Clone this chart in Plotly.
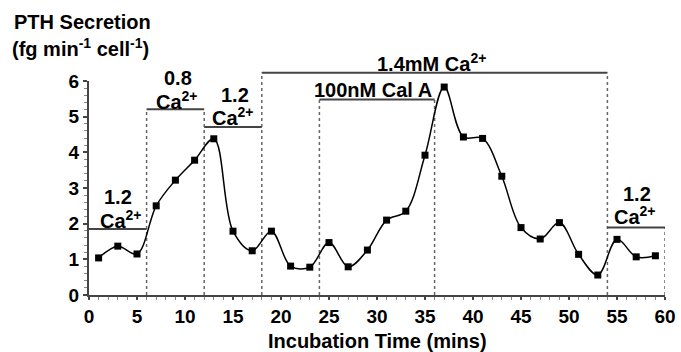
import plotly.graph_objects as go

time_min = [1, 3, 5, 7, 9, 11, 13, 15, 17, 19, 21, 23, 25, 27, 29, 31, 33, 35,
            37, 39, 41, 43, 45, 47, 49, 51, 53, 55, 57, 59]
pth = [1.04, 1.37, 1.15, 2.5, 3.22, 3.78, 4.38, 1.79, 1.24, 1.79, 0.81, 0.78,
       1.47, 0.79, 1.26, 2.1, 2.35, 3.92, 5.83, 4.43, 4.39, 3.33, 1.89, 1.57,
       2.03, 1.14, 0.56, 1.56, 1.07, 1.10]

# condition periods: (start, end, bar level)
periods = [(0, 6, 1.85), (6, 12, 5.21), (12, 18, 4.71), (18, 54, 6.23),
           (24, 36, 5.48), (54, 60, 1.89)]
# dotted boundaries: (x, top)
boundaries = [(6, 5.21), (12, 5.21), (18, 6.23), (24, 5.48), (36, 5.48),
              (54, 6.23), (60, 1.89)]
# labels: (text, x, y)
labels = [("1.2", 3.0, 2.76), ("Ca<sup>2+</sup>", 3.3, 2.12),
          ("0.8", 9.3, 6.08), ("Ca<sup>2+</sup>", 9.2, 5.45),
          ("1.2", 15.2, 5.6), ("Ca<sup>2+</sup>", 15.0, 5.01),
          ("1.4mM Ca<sup>2+</sup>", 35.7, 6.53),
          ("100nM Cal A", 29.6, 5.74),
          ("1.2", 57.1, 2.84), ("Ca<sup>2+</sup>", 56.9, 2.24)]

FONT = "Liberation Sans"
YMAX = 6.0

W, H = 681, 352
L, R, T, B = 89, 16, 81, 57
pw, ph = W - L - R, H - T - B


def px(xp):
    return (xp - L) / pw


def py(yp):
    return (H - B - yp) / ph


fig = go.Figure()
fig.add_trace(go.Scatter(
    x=time_min, y=pth, mode="lines+markers",
    line=dict(color="black", width=1.5, shape="spline", smoothing=1.0),
    marker=dict(symbol="square", size=7, color="black"),
    cliponaxis=False, showlegend=False, hoverinfo="skip"))

shapes = []
for (x0, x1, yv) in periods:
    shapes.append(dict(type="line", xref="x", yref="paper", x0=x0, x1=x1,
                       y0=yv / YMAX, y1=yv / YMAX,
                       line=dict(color="#444444", width=2), layer="above"))
for (xv, top) in boundaries:
    shapes.append(dict(type="line", xref="x", yref="paper", x0=xv, x1=xv,
                       y0=0, y1=top / YMAX,
                       line=dict(color="#666666", width=1.5, dash="dot"), layer="below"))

bold = dict(family=FONT, size=20, color="black", weight="bold")
tickbold = dict(family=FONT, size=19, color="black", weight="bold")
annotations = []
for (t, xv, yv) in labels:
    annotations.append(dict(text=t, x=xv, y=yv / YMAX, xref="x", yref="paper",
                            showarrow=False, xanchor="center", yanchor="middle",
                            font=bold))
annotations.append(dict(text="PTH Secretion", x=px(12), y=py(22), xref="paper",
                        yref="paper", showarrow=False, xanchor="left", yanchor="middle",
                        font=bold))
annotations.append(dict(text="(fg min<sup>-1</sup> cell<sup>-1</sup>)", x=px(10), y=py(47),
                        xref="paper", yref="paper", showarrow=False, xanchor="left",
                        yanchor="middle", font=bold))
annotations.append(dict(text="Incubation Time (mins)", x=px(377), y=py(341),
                        xref="paper", yref="paper", showarrow=False, xanchor="center",
                        yanchor="middle", font=bold))

fig.update_layout(
    annotations=annotations, shapes=shapes,
    width=W, height=H, margin=dict(l=L, r=R, t=T, b=B, autoexpand=False),
    plot_bgcolor="white", paper_bgcolor="white",
    xaxis=dict(range=[0, 60], tickmode="linear", tick0=0, dtick=5, automargin=False,
               showgrid=False, zeroline=False, showline=True, linecolor="#444444", linewidth=2,
               ticks="outside", ticklen=3, tickwidth=1.5, tickcolor="#444444",
               minor=dict(dtick=1, ticks="outside", ticklen=3, tickcolor="#888888", tickwidth=1),
               tickfont=tickbold),
    yaxis=dict(range=[0, YMAX], tickmode="linear", tick0=0, dtick=1, automargin=False,
               showgrid=False, zeroline=False, showline=True, linecolor="#444444", linewidth=2,
               ticks="outside", ticklen=4, tickwidth=1.5, tickcolor="#444444",
               minor=dict(dtick=0.2, ticks="outside", ticklen=3, tickcolor="#888888", tickwidth=1),
               tickfont=tickbold),
)

fig.write_html("out.html", config={"displayModeBar": False},
               post_script="document.body.style.margin='0';")
